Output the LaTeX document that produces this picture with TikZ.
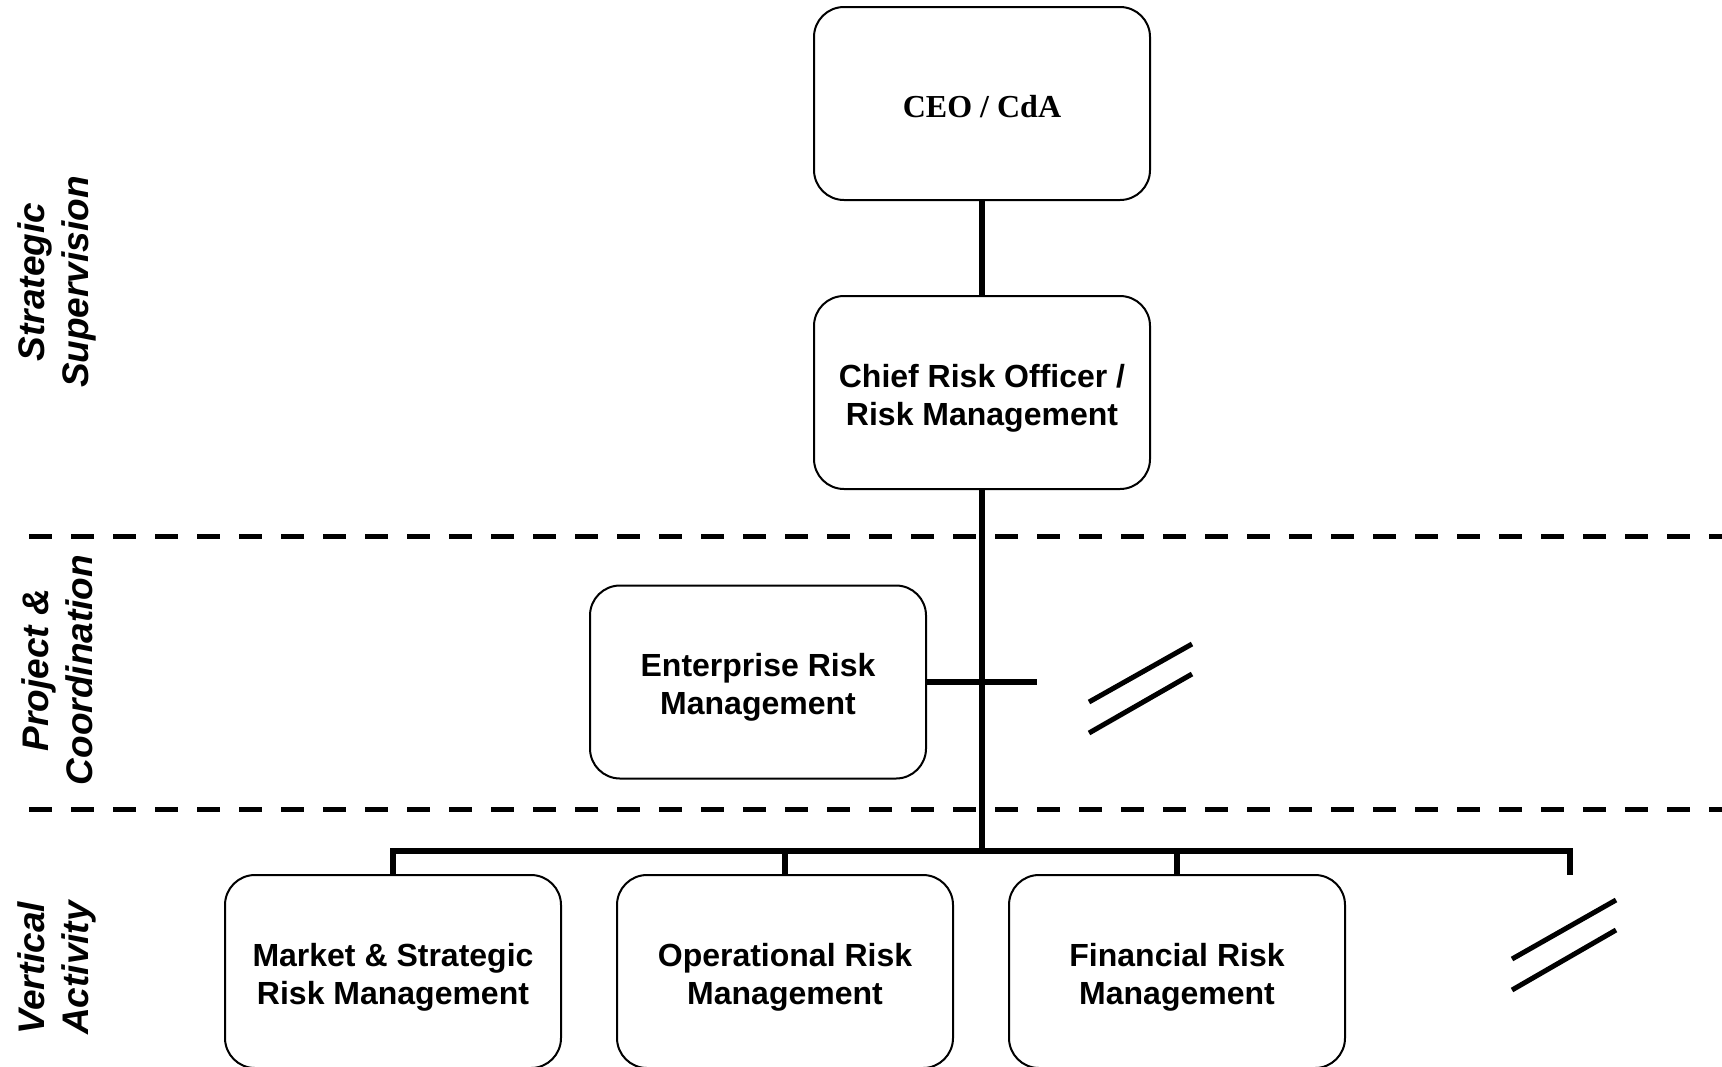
\documentclass[tikz,border=0pt]{standalone}
\usepackage{fontspec}
\setmainfont{Liberation Sans}
\newfontfamily\serifbold{Liberation Serif}
\newcommand\boxtext[2]{\raisebox{-3pt}[\height][\depth]{\begin{tabular}{@{}c@{}}#1\\#2\end{tabular}}}
\begin{document}
\begin{tikzpicture}[x=0.5pt,y=-0.5pt,
  box/.style={draw=black,line width=1pt,rounded corners=15pt,fill=white,
    minimum width=168pt,minimum height=96.5pt,inner sep=0pt,
    font=\fontsize{16}{19}\selectfont\bfseries},
  ceobox/.style={box,font=\fontsize{16}{18}\selectfont\serifbold\bfseries},
  conn/.style={line width=3pt},
  sep/.style={line width=2.5pt,dash pattern=on 11.5pt off 9.5pt},
  slash/.style={line width=2.5pt},
  side/.style={rotate=90,align=center,font=\fontsize{18.5}{22}\selectfont\bfseries\itshape}]
\useasboundingbox (0,0) rectangle (1722,1066);
\clip (0,0) rectangle (1722,1066);
% separators
\coordinate (s1a) at (29,536); \coordinate (s1b) at (1740,536);
\coordinate (s2a) at (29,809); \coordinate (s2b) at (1740,809);
\draw[sep] (s1a) -- (s1b);
\draw[sep] (s2a) -- (s2b);
% side labels
\node[side] (lab1) at (57,282) {Strategic\\Supervision};
\node[side] (lab2) at (57,670) {Project \&\\Coordination};
\node[side] (lab3) at (57,968) {Vertical\\Activity};
% boxes
\node[ceobox] (ceo) at (982,103.5) {\raisebox{-1.5pt}[\height][\depth]{CEO / CdA}};
\node[box] (cro) at (982,392.5) {\boxtext{Chief Risk Officer /}{Risk Management}};
\node[box] (erm) at (758,682) {\boxtext{Enterprise Risk}{Management}};
\node[box] (m1) at (393,971.5) {\boxtext{Market \& Strategic}{Risk Management}};
\node[box] (m2) at (785,971.5) {\boxtext{Operational Risk}{Management}};
\node[box] (m3) at (1177,971.5) {\boxtext{Financial Risk}{Management}};
% connectors
\coordinate (busL) at (393,851);
\coordinate (busR) at (1570,851);
\coordinate (busRend) at (1570,875);
\coordinate (ermend) at (1037,682);
\draw[conn] (ceo.south) -- (cro.north);
\draw[conn] (cro.south) -- (cro.south |- busL);
\draw[conn] (m1.north) -- (busL) -- (busR) -- (busRend);
\draw[conn] (m2.north) -- (m2.north |- busL);
\draw[conn] (m3.north) -- (m3.north |- busL);
\draw[conn] (erm.east) -- (ermend);
% break marks
\coordinate (a1) at (1089,702); \coordinate (a2) at (1192,644);
\coordinate (b1) at (1089,733); \coordinate (b2) at (1192,674);
\coordinate (c1) at (1512,959); \coordinate (c2) at (1616,900);
\coordinate (d1) at (1512,990); \coordinate (d2) at (1616,930);
\draw[slash] (a1) -- (a2);
\draw[slash] (b1) -- (b2);
\draw[slash] (c1) -- (c2);
\draw[slash] (d1) -- (d2);
\end{tikzpicture}
\end{document}
